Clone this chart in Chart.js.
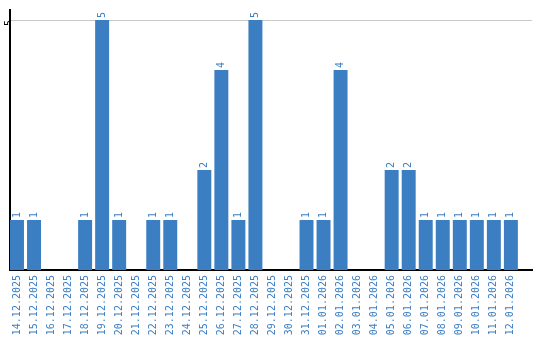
<!DOCTYPE html>
<html lang="en">
<head>
    <meta charset="UTF-8">
    <title>Chart</title>
    <script src="https://cdn.jsdelivr.net/npm/chart.js"></script>
    <style>
        html, body { margin: 0; padding: 0; background: #fff; }
        #wrap { width: 540px; height: 340px; }
    </style>
</head>
<body>
    <div id="wrap"><canvas id="dailyChart"></canvas></div>

    <script>
        // dates and daily counts
        const days = [
            '14.12.2025', '15.12.2025', '16.12.2025', '17.12.2025', '18.12.2025',
            '19.12.2025', '20.12.2025', '21.12.2025', '22.12.2025', '23.12.2025',
            '24.12.2025', '25.12.2025', '26.12.2025', '27.12.2025', '28.12.2025',
            '29.12.2025', '30.12.2025', '31.12.2025', '01.01.2026', '02.01.2026',
            '03.01.2026', '04.01.2026', '05.01.2026', '06.01.2026', '07.01.2026',
            '08.01.2026', '09.01.2026', '10.01.2026', '11.01.2026', '12.01.2026'
        ];
        const counts = [1, 1, 0, 0, 1, 5, 1, 0, 1, 1, 0, 2, 4, 1, 5, 0, 0, 1, 1, 4, 0, 0, 2, 2, 1, 1, 1, 1, 1, 1];
        const yTicks = [5];

        const blue = '#3b7ec2';
        const monoFont = { family: 'DejaVu Sans Mono', size: 10 };

        // value labels, rotated, above each bar
        const barLabels = {
            id: 'barLabels',
            afterDatasetsDraw(chart) {
                const ctx = chart.ctx;
                const meta = chart.getDatasetMeta(0);
                ctx.save();
                ctx.fillStyle = blue;
                ctx.font = '10px "DejaVu Sans Mono"';
                ctx.textAlign = 'left';
                ctx.textBaseline = 'middle';
                meta.data.forEach((bar, i) => {
                    const v = counts[i];
                    if (!v) return;
                    ctx.save();
                    ctx.translate(bar.x, bar.y - 2);
                    ctx.rotate(-Math.PI / 2);
                    ctx.fillText(String(v), 0, 0);
                    ctx.restore();
                });
                ctx.restore();
            }
        };

        new Chart(document.getElementById('dailyChart'), {
            type: 'bar',
            data: {
                datasets: [{
                    data: counts.map((v, i) => ({ x: i, y: v })),
                    backgroundColor: blue,
                    borderWidth: 0,
                    barPercentage: 0.82,
                    categoryPercentage: 1
                }]
            },
            options: {
                responsive: true,
                maintainAspectRatio: false,
                animation: false,
                layout: { padding: { left: 0, right: 8, top: 10, bottom: 0 } },
                plugins: {
                    legend: { display: false },
                    tooltip: { enabled: false }
                },
                scales: {
                    x: {
                        type: 'linear',
                        offset: false,
                        min: -0.41,
                        max: 30.24,
                        afterBuildTicks: axis => { axis.ticks = days.map((d, i) => ({ value: i })); },
                        afterFit: axis => { axis.height = 70; },
                        grid: { display: false, drawTicks: false },
                        border: { color: '#000', width: 2 },
                        ticks: {
                            color: blue,
                            font: monoFont,
                            minRotation: 90,
                            maxRotation: 90,
                            autoSkip: false,
                            padding: 5,
                            callback: v => days[v]
                        }
                    },
                    y: {
                        min: 0,
                        max: 5.2,
                        afterBuildTicks: axis => { axis.ticks = yTicks.map(v => ({ value: v })); },
                        afterFit: axis => { axis.width = 10; },
                        grid: { color: '#c8c8c8', drawTicks: false },
                        border: { color: '#000', width: 2 },
                        ticks: {
                            color: '#000',
                            font: monoFont,
                            minRotation: 90,
                            padding: 1
                        }
                    }
                }
            },
            plugins: [barLabels]
        });
    </script>
</body>
</html>
